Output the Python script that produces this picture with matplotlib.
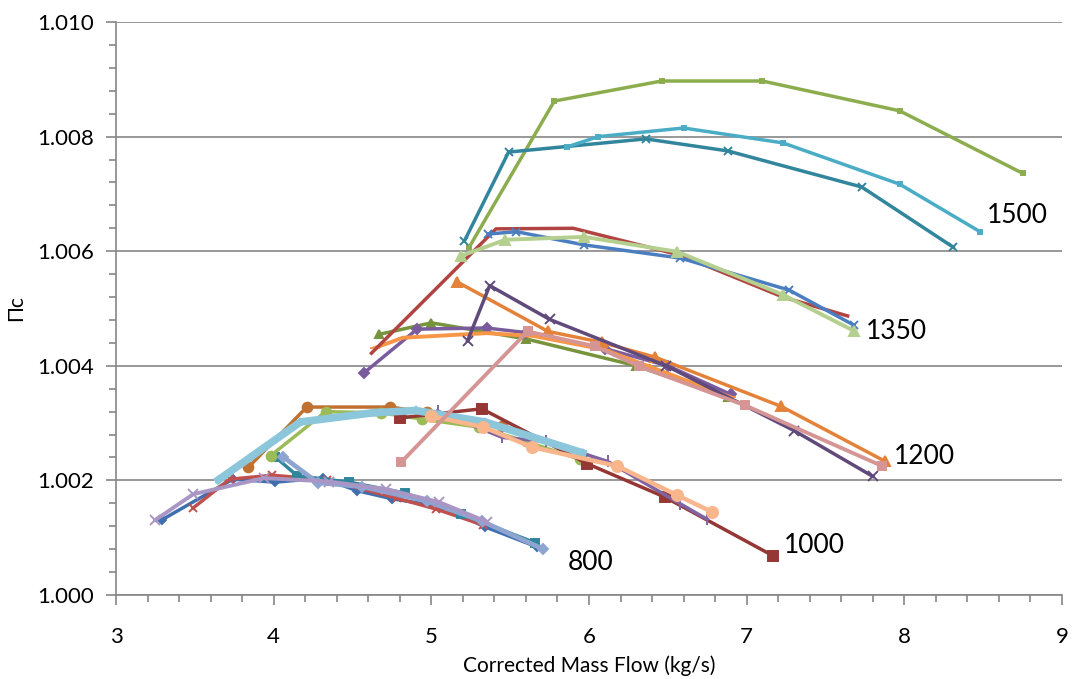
import matplotlib
matplotlib.use("Agg")
import matplotlib.pyplot as plt
import matplotlib.ticker as ticker

plt.rcParams['font.family'] = ['Lato', 'Open Sans', 'DejaVu Sans']

# speed line 800
s800_blue_x = [3.29, 3.74, 4.01, 4.31, 4.53, 4.75, 5.07, 5.34, 5.67]
s800_blue_y = [1.00131, 1.00202, 1.00197, 1.00204, 1.00182, 1.00168, 1.00154, 1.00119, 1.00084]
s800_red_x = [3.49, 3.72, 3.99, 4.34, 4.78, 5.03, 5.33]
s800_red_y = [1.00152, 1.00202, 1.00209, 1.00201, 1.00169, 1.00150, 1.00122]
s800_teal_x = [4.01, 4.15, 4.48, 4.83, 5.19, 5.66]
s800_teal_y = [1.00241, 1.00208, 1.00197, 1.00178, 1.00141, 1.00091]
s800_violet_x = [4.06, 4.28, 4.56, 4.97, 5.32, 5.71]
s800_violet_y = [1.00241, 1.00196, 1.00189, 1.00164, 1.00129, 1.00080]
s800_lilac_x = [3.25, 3.49, 3.94, 4.35, 4.71, 5.05, 5.35]
s800_lilac_y = [1.00131, 1.00176, 1.00204, 1.00198, 1.00185, 1.00162, 1.00128]

# speed line 1000
s1000_brown_x = [3.84, 4.21, 4.74, 4.97, 5.45, 5.95]
s1000_brown_y = [1.00223, 1.00328, 1.00328, 1.00319, 1.00295, 1.00245]
s1000_green_x = [3.98, 4.33, 4.68, 4.94, 5.30, 5.60, 5.94]
s1000_green_y = [1.00243, 1.00320, 1.00318, 1.00307, 1.00293, 1.00268, 1.00237]
s1000_sky_x = [3.65, 4.17, 4.63, 4.90, 5.34, 5.96]
s1000_sky_y = [1.00201, 1.00302, 1.00318, 1.00322, 1.00302, 1.00248]
s1000_maroon_x = [4.80, 5.32, 5.99, 6.48, 7.17]
s1000_maroon_y = [1.00309, 1.00325, 1.00229, 1.00171, 1.00068]
s1000_peach_x = [5.00, 5.33, 5.64, 6.18, 6.56, 6.78]
s1000_peach_y = [1.00312, 1.00293, 1.00258, 1.00225, 1.00174, 1.00145]
s1000_purple_x = [5.04, 5.45, 5.73, 6.12, 6.58, 6.75]
s1000_purple_y = [1.00321, 1.00275, 1.00268, 1.00233, 1.00159, 1.00132]

# speed line 1200
s1200_olive_x = [4.67, 5.00, 5.60, 6.30, 6.88]
s1200_olive_y = [1.00455, 1.00475, 1.00447, 1.00400, 1.00345]
s1200_purple_x = [4.57, 4.91, 5.35, 5.60, 6.10, 6.50, 6.90]
s1200_purple_y = [1.00387, 1.00464, 1.00466, 1.00458, 1.00430, 1.00400, 1.00350]
s1200_orange_x = [4.64, 4.82, 5.35, 5.65, 6.10, 6.36, 6.90]
s1200_orange_y = [1.00431, 1.00449, 1.00457, 1.00452, 1.00428, 1.00401, 1.00345]
s1200_dkorange_x = [5.16, 5.74, 6.08, 6.42, 7.22, 7.88]
s1200_dkorange_y = [1.00547, 1.00460, 1.00441, 1.00415, 1.00329, 1.00233]
s1200_dkpurple_x = [5.23, 5.37, 5.75, 6.49, 7.30, 7.80]
s1200_dkpurple_y = [1.00444, 1.00540, 1.00481, 1.00400, 1.00287, 1.00207]
s1200_pink_x = [4.81, 5.61, 6.04, 6.32, 6.99, 7.86]
s1200_pink_y = [1.00232, 1.00460, 1.00434, 1.00399, 1.00331, 1.00225]

# speed line 1350
s1350_red_x = [4.62, 5.41, 5.90, 6.58, 7.23, 7.64]
s1350_red_y = [1.00422, 1.00639, 1.00640, 1.00593, 1.00520, 1.00487]
s1350_blue_x = [5.36, 5.54, 5.97, 6.58, 7.27, 7.68]
s1350_blue_y = [1.00630, 1.00634, 1.00611, 1.00588, 1.00532, 1.00471]
s1350_lgreen_x = [5.19, 5.47, 5.97, 6.56, 7.23, 7.68]
s1350_lgreen_y = [1.00592, 1.00620, 1.00625, 1.00599, 1.00524, 1.00461]

# speed line 1500
s1500_green_x = [5.24, 5.78, 6.46, 7.10, 7.97, 8.75]
s1500_green_y = [1.00607, 1.00862, 1.00897, 1.00897, 1.00845, 1.00736]
s1500_teal_x = [5.21, 5.49, 6.36, 6.88, 7.73, 8.31]
s1500_teal_y = [1.00618, 1.00773, 1.00796, 1.00775, 1.00712, 1.00607]
s1500_aqua_x = [5.86, 6.06, 6.60, 7.23, 7.97, 8.48]
s1500_aqua_y = [1.00782, 1.00800, 1.00815, 1.00789, 1.00717, 1.00634]

speed_labels = ["1500", "1350", "1200", "1000", "800"]
speed_label_x = [8.72, 7.95, 8.13, 7.43, 6.01]
speed_label_y = [1.00663, 1.00459, 1.00241, 1.00086, 1.00056]

fig = plt.figure(figsize=(10.72, 6.79), dpi=100)
ax = fig.add_axes([0.1082, 0.1237, 0.8825, 0.8439])

def line(x, y, color, marker, ms=5, lw=2.5):
    ax.plot(x, y, color=color, lw=lw, marker=marker, ms=ms,
            markeredgecolor=color, markerfacecolor=color, mew=1.4)

# 800
line(s800_blue_x, s800_blue_y, "#3E6FAF", "D", 4.5)
line(s800_red_x, s800_red_y, "#C0504D", "x", 6)
line(s800_teal_x, s800_teal_y, "#31859C", "s", 6)
line(s800_violet_x, s800_violet_y, "#8EA5D2", "D", 5, 3.4)
line(s800_lilac_x, s800_lilac_y, "#A996C4", "x", 7, 2.8)

# 1000
line(s1000_brown_x, s1000_brown_y, "#C0712F", "o", 7)
line(s1000_green_x, s1000_green_y, "#9BBB59", "o", 7)
line(s1000_maroon_x, s1000_maroon_y, "#953735", "s", 6.5)
line(s1000_purple_x, s1000_purple_y, "#8064A2", "|", 9)
line(s1000_sky_x, s1000_sky_y, "#8CC6DA", "*", 6, 5.5)
line(s1000_peach_x, s1000_peach_y, "#F9B58C", "o", 8, 3.2)

# 1200
line(s1200_olive_x, s1200_olive_y, "#77933C", "^", 6)
line(s1200_purple_x, s1200_purple_y, "#7A5C9E", "D", 5)
line(s1200_orange_x, s1200_orange_y, "#F79646", "_", 7, 2.8)
line(s1200_dkorange_x, s1200_dkorange_y, "#E5823A", "^", 7)
line(s1200_dkpurple_x, s1200_dkpurple_y, "#604A7B", "x", 7)
line(s1200_pink_x, s1200_pink_y, "#D59594", "s", 6, 2.8)

# 1350
line(s1350_red_x, s1350_red_y, "#B14441", None)
line(s1350_blue_x, s1350_blue_y, "#4A7EC0", "x", 6)
line(s1350_lgreen_x, s1350_lgreen_y, "#B5CF8F", "^", 7, 2.8)

# 1500
line(s1500_green_x, s1500_green_y, "#8CAD4D", "s", 3)
line(s1500_teal_x, s1500_teal_y, "#31859C", "x", 6)
line(s1500_aqua_x, s1500_aqua_y, "#4BACC6", "s", 3)

for txt, tx, ty in zip(speed_labels, speed_label_x, speed_label_y):
    ax.text(tx, ty, txt, fontsize=19, ha="center", va="center")

ax.set_xlim(3, 9)
ax.set_ylim(1.000, 1.010)
ax.xaxis.set_major_locator(ticker.MultipleLocator(1))
ax.xaxis.set_minor_locator(ticker.MultipleLocator(0.2))
ax.yaxis.set_major_locator(ticker.MultipleLocator(0.002))
ax.yaxis.set_minor_locator(ticker.MultipleLocator(0.0004))
ax.yaxis.set_major_formatter(ticker.FormatStrFormatter("%.3f"))
ax.xaxis.set_major_formatter(ticker.FormatStrFormatter("%d"))

grey = "#868686"
ax.grid(True, axis="y", which="major", color=grey, lw=1.2)
ax.set_axisbelow(True)
for side in ["top", "right"]:
    ax.spines[side].set_visible(False)
for side in ["left", "bottom"]:
    ax.spines[side].set_color(grey)
    ax.spines[side].set_linewidth(1.2)
ax.tick_params(which="both", direction="out", color=grey, width=1.2)
ax.tick_params(which="major", length=7, labelsize=16)
ax.tick_params(axis="x", which="major", pad=16)
ax.tick_params(axis="y", which="major", pad=9)
ax.tick_params(which="minor", length=5)

ax.set_xlabel("Corrected Mass Flow (kg/s)", fontsize=15, labelpad=6)
ax.set_ylabel("Πc", fontsize=15, labelpad=8)

fig.savefig("out.png", dpi=100)
